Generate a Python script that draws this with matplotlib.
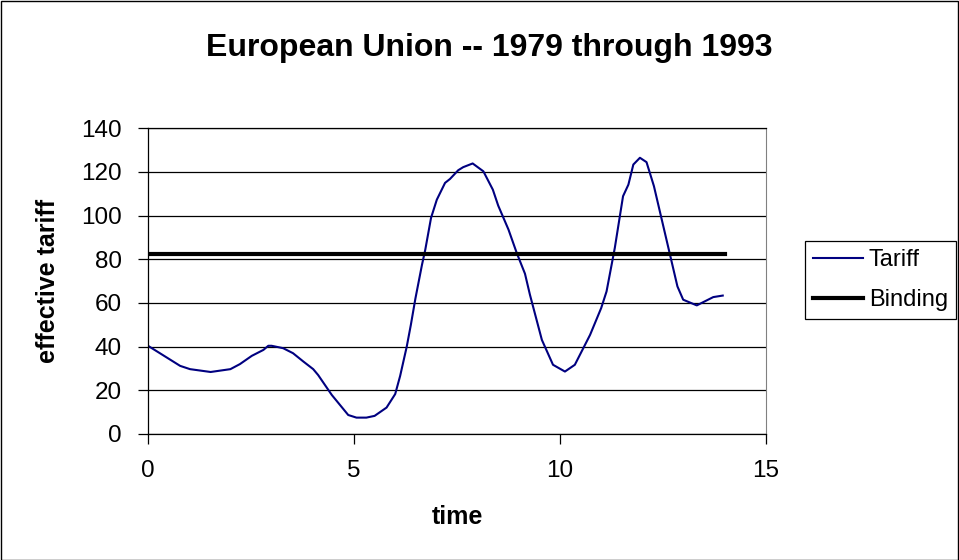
import numpy as np
import matplotlib
matplotlib.use("Agg")
import matplotlib.pyplot as plt
from matplotlib.patches import Rectangle

# values
tariff_t = [0, 0.78, 1.02, 1.52, 2.0, 2.23, 2.52, 2.8, 2.92, 3.0, 3.28, 3.52,
            3.77, 4.01, 4.13, 4.46, 4.86, 5.06, 5.3, 5.5, 5.79, 6.0, 6.12,
            6.28, 6.38, 6.49, 6.65, 6.73, 6.87, 7.01, 7.21, 7.33, 7.53, 7.65,
            7.88, 8.14, 8.37, 8.5, 8.75, 8.95, 9.15, 9.27, 9.56, 9.83, 10.12,
            10.36, 10.73, 11.0, 11.13, 11.33, 11.53, 11.66, 11.78, 11.94,
            12.1, 12.28, 12.47, 12.67, 12.85, 12.99, 13.32, 13.72, 13.95]
tariff_v = [40.4, 31.2, 29.7, 28.4, 29.7, 32, 35.8, 38.5, 40.4, 40.4, 39.3, 37,
            33.2, 29.7, 27, 17.9, 8.7, 7.5, 7.5, 8.3, 12.1, 18.3, 26.6,
            40, 50, 62, 77.5, 84.4, 99, 107.3, 115, 116.8, 120.8, 122.2,
            123.9, 120.3, 111.9, 104.6, 93.6, 82.9, 73.4, 63.8, 43.1, 31.7, 28.6,
            31.7, 45.4, 57.7, 65.3, 85.2, 108.9, 114.2, 123.4, 126.5,
            124.5, 113.5, 98.2, 82.1, 67.6, 61.5, 58.9, 62.7, 63.4]
binding_t = list(range(15))
binding_v = [82.5] * 15

plt.rcParams['font.family'] = ['Liberation Sans', 'DejaVu Sans']

W, H = 959, 560
fig = plt.figure(figsize=(W/100, H/100), dpi=100)
ax = fig.add_axes([148/W, 126/H, 618/W, 305.7/H])

ax.plot(tariff_t, tariff_v, color='#000080', lw=1.5, label='Tariff')
ax.plot(binding_t, binding_v, color='black', lw=3, label='Binding')

ax.set_xlim(0, 15)
ax.set_ylim(0, 140)
ax.set_xticks([0, 5, 10, 15])
ax.set_yticks(range(0, 141, 20))
ax.yaxis.grid(True, color='black', lw=0.9)
ax.set_axisbelow(True)
ax.tick_params(labelsize=17.5, length=7, width=0.9, direction='out')
ax.tick_params(axis='y', pad=12)
ax.tick_params(axis='x', pad=12)
ax.spines['right'].set_color('#808080')
for s in ['left', 'bottom', 'top']:
    ax.spines[s].set_linewidth(0.9)

ax.set_xlabel('time', fontsize=18, fontweight='bold', va='center')
ax.xaxis.set_label_coords(0.5, (434 - 517) / 305.7)
ax.set_ylabel('effective tariff', fontsize=18, fontweight='bold', va='center')
ax.yaxis.set_label_coords((48 - 148) / 618, 0.5)
fig.text(489/W, 1 - 48/H, 'European Union -- 1979 through 1993',
         ha='center', va='center', fontsize=23, fontweight='bold')

leg = ax.legend(loc='center left', bbox_to_anchor=(805/W, 1 - 280/H),
                bbox_transform=fig.transFigure, fontsize=17, borderaxespad=0,
                frameon=True, fancybox=False, edgecolor='black', framealpha=1,
                handlelength=2.1, handletextpad=0.25, borderpad=0.35, labelspacing=0.75)
leg.get_frame().set_linewidth(0.9)

fig.patches.append(Rectangle((0.5/W, 0.5/H), (W - 1.5)/W, (H - 1.5)/H,
                             transform=fig.transFigure, fill=False,
                             edgecolor='black', lw=1))

fig.savefig('out.png', dpi=100)
